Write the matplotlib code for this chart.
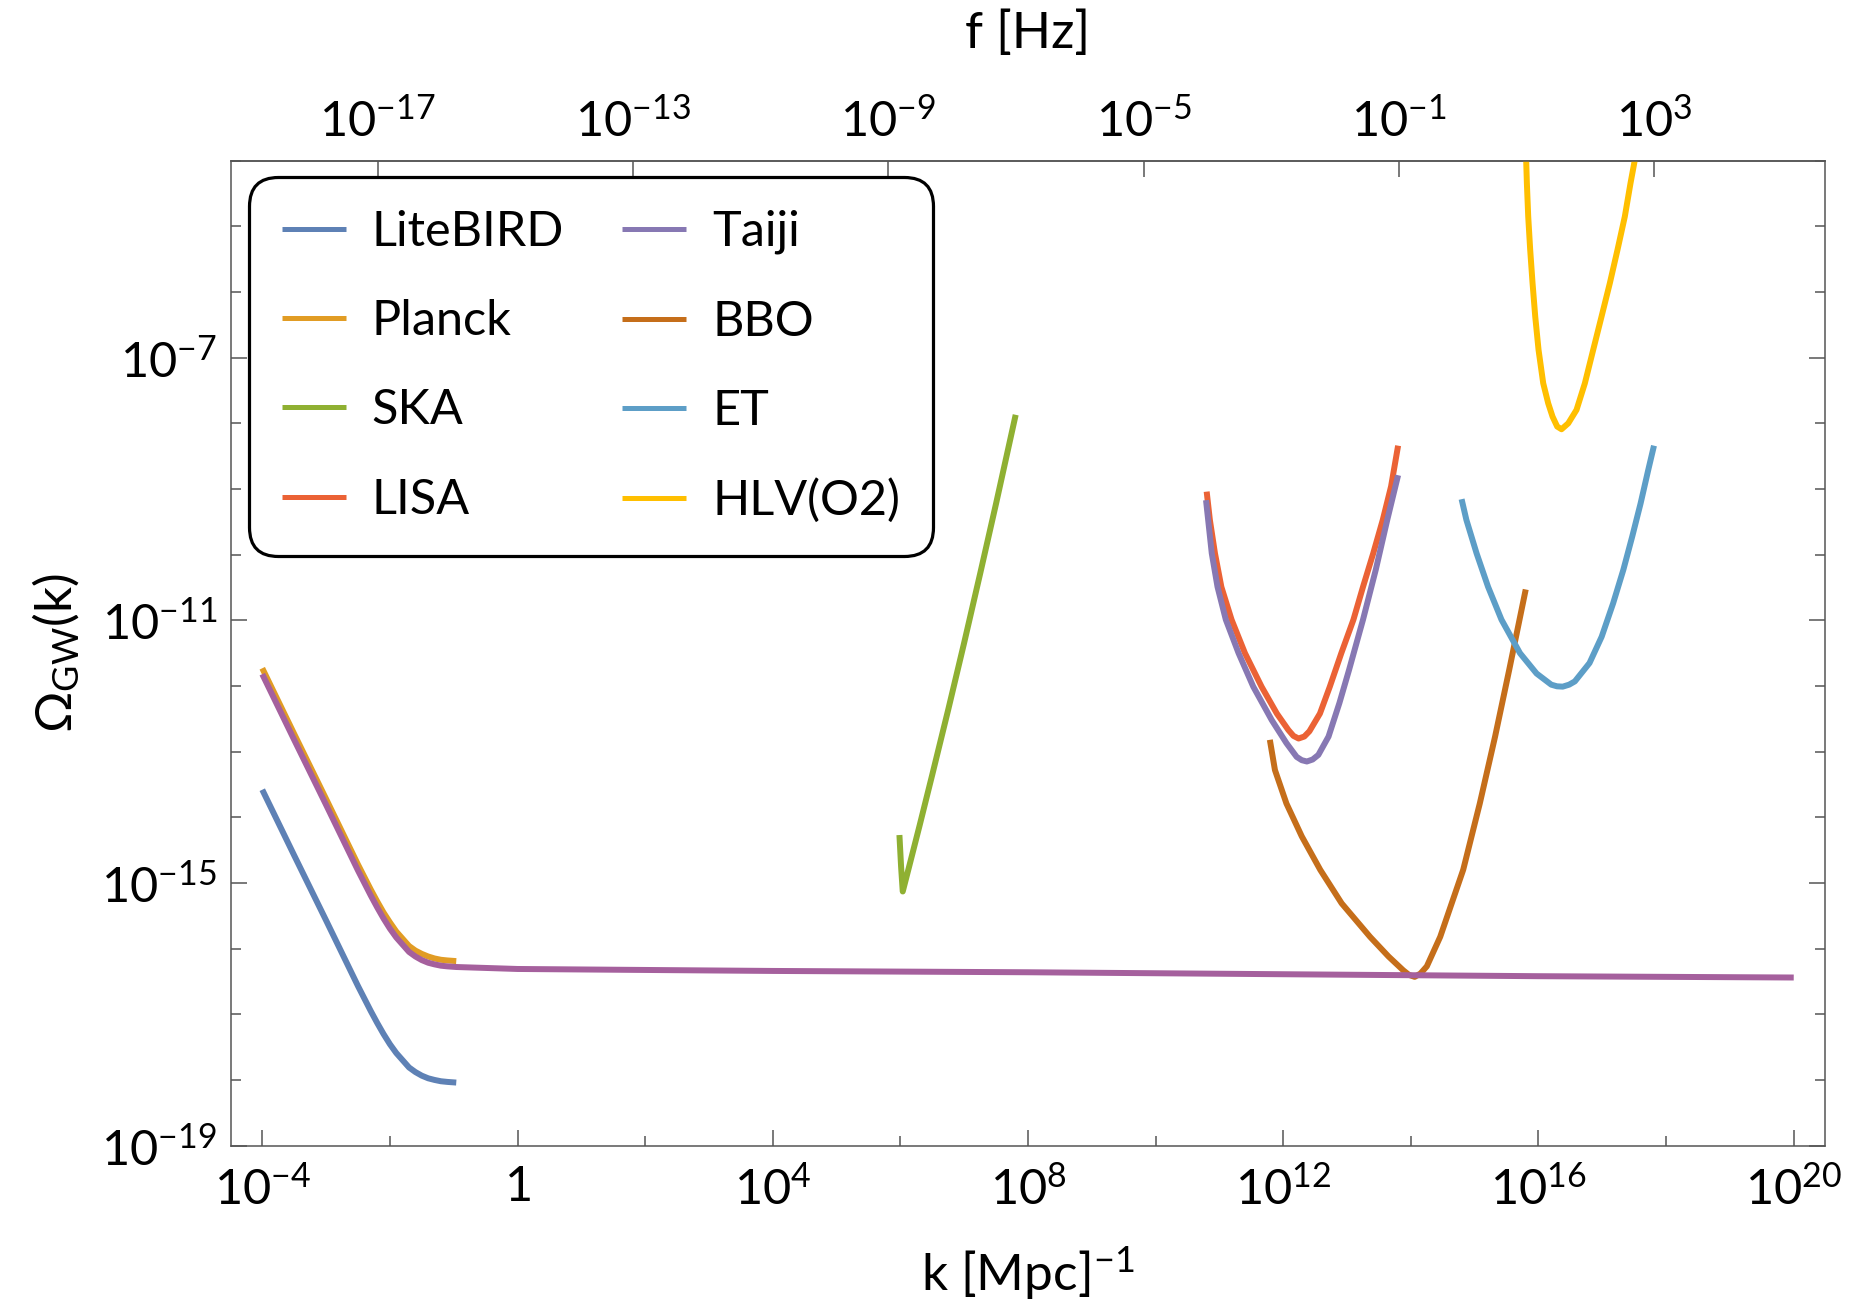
import numpy as np
import matplotlib
matplotlib.use('Agg')
import matplotlib.pyplot as plt
from matplotlib.ticker import FixedLocator, FixedFormatter, NullLocator, NullFormatter

plt.rcParams['font.family'] = ['Lato', 'DejaVu Sans']
plt.rcParams['mathtext.fontset'] = 'custom'
plt.rcParams['mathtext.rm'] = 'Lato'
plt.rcParams['mathtext.it'] = 'Lato:italic'
plt.rcParams['mathtext.bf'] = 'Lato:bold'
plt.rcParams['mathtext.sf'] = 'Lato'
plt.rcParams['mathtext.default'] = 'regular'

# ---------------- data (log10 k [Mpc^-1], log10 Omega_GW) ----------------
litebird_logk = [-4.0, -3.5, -3.0, -2.7, -2.5, -2.3, -2.2, -2.1, -2.0, -1.9, -1.8, -1.7, -1.6, -1.5, -1.4, -1.3, -1.2, -1.1, -0.96]
litebird_logO = [-13.58, -14.58, -15.57, -16.17, -16.57, -16.95, -17.13, -17.30, -17.455, -17.59, -17.70, -17.81, -17.88,
                 -17.935, -17.975, -18.00, -18.02, -18.03, -18.04]

planck_logk = [-4.0, -3.5, -3.0, -2.7, -2.5, -2.3, -2.2, -2.1, -2.0, -1.9, -1.8, -1.7, -1.6, -1.5, -1.4, -1.3, -1.2, -1.1, -0.96]
planck_logO = [-11.73, -12.73, -13.72, -14.32, -14.72, -15.10, -15.28, -15.45, -15.60, -15.74, -15.85, -15.96, -16.03,
               -16.08, -16.12, -16.15, -16.17, -16.18, -16.19]

ska_logk = [5.985, 6.011, 6.037, 6.14, 6.3, 6.5, 6.75, 7.0, 7.25, 7.5, 7.807]
ska_logO = [-14.27, -14.75, -15.13, -14.74, -14.13, -13.35, -12.36, -11.34, -10.29, -9.22, -7.87]

lisa_logk = [10.80, 10.85, 10.93, 11.03, 11.19, 11.40, 11.66, 11.90, 12.08, 12.16, 12.24, 12.33, 12.41, 12.575, 12.73,
             12.91, 13.10, 13.25, 13.41, 13.56, 13.69, 13.80]
lisa_logO = [-9.04, -9.47, -9.98, -10.49, -10.99, -11.50, -12.01, -12.42, -12.67, -12.76, -12.80, -12.77, -12.69, -12.42,
             -12.01, -11.50, -10.99, -10.49, -9.98, -9.47, -8.96, -8.34]

taiji_logk = [10.79, 10.88, 10.97, 11.10, 11.30, 11.53, 11.82, 12.05, 12.21, 12.29, 12.37, 12.46, 12.55, 12.71, 12.88,
              13.03, 13.25, 13.45, 13.63, 13.80]
taiji_logO = [-9.17, -9.98, -10.49, -10.99, -11.50, -12.01, -12.52, -12.87, -13.08, -13.13, -13.15, -13.12, -13.05,
              -12.77, -12.26, -11.76, -10.99, -10.23, -9.47, -8.79]

bbo_logk = [11.79, 11.87, 12.05, 12.29, 12.58, 12.915, 13.36, 13.65, 13.88, 13.97, 14.06, 14.15, 14.25, 14.46, 14.64,
            14.82, 15.08, 15.32, 15.54, 15.80]
bbo_logO = [-12.82, -13.28, -13.79, -14.29, -14.80, -15.31, -15.82, -16.12, -16.33, -16.40, -16.43, -16.38, -16.27,
            -15.82, -15.31, -14.80, -13.79, -12.77, -11.76, -10.53]

et_logk = [14.795, 14.87, 15.03, 15.21, 15.42, 15.71, 15.97, 16.20, 16.29, 16.38, 16.48, 16.57, 16.80, 16.99, 17.17,
           17.33, 17.47, 17.60, 17.72, 17.81]
et_logO = [-9.155, -9.47, -9.98, -10.49, -10.99, -11.50, -11.81, -11.98, -12.005, -12.01, -11.98, -11.93, -11.65,
           -11.25, -10.74, -10.23, -9.72, -9.22, -8.71, -8.34]

hlv_logk = [15.802, 15.818, 15.839, 15.870, 15.907, 15.949, 16.001, 16.074, 16.152, 16.220, 16.293, 16.361,
            16.466, 16.596, 16.727, 16.857, 16.988, 17.118, 17.238, 17.353, 17.442, 17.51, 17.536]
hlv_logO = [-3.835, -4.343, -4.85, -5.358, -5.866, -6.374, -6.882, -7.389, -7.694, -7.897, -8.049, -8.09,
            -8.0, -7.795, -7.389, -6.882, -6.374, -5.866, -5.358, -4.85, -4.343, -3.987, -3.835]

model_logk = [-4.0, -3.5, -3.0, -2.7, -2.5, -2.3, -2.2, -2.1, -2.0, -1.9, -1.8, -1.7, -1.6, -1.5, -1.4, -1.3, -1.2,
              -1.1, -0.96, 0, 4, 8, 12, 16, 20]
model_logO = [-11.82, -12.82, -13.81, -14.41, -14.81, -15.19, -15.37, -15.54, -15.695, -15.83, -15.94, -16.05, -16.12,
              -16.175, -16.215, -16.24, -16.26, -16.27, -16.28, -16.31, -16.34, -16.36, -16.39, -16.42, -16.44]

series_names = ['LiteBIRD', 'Planck', 'SKA', 'LISA', 'Taiji', 'BBO', 'ET', 'HLV(O2)']
series_k = [litebird_logk, planck_logk, ska_logk, lisa_logk, taiji_logk, bbo_logk, et_logk, hlv_logk]
series_O = [litebird_logO, planck_logO, ska_logO, lisa_logO, taiji_logO, bbo_logO, et_logO, hlv_logO]
series_colors = ['#5E81B5', '#E19C24', '#8FB032', '#EB6235', '#8778B3', '#C56E1A', '#5D9EC7', '#FFBF00']
model_color = '#A5609D'

x_major_exp = [-4, 0, 4, 8, 12, 16, 20]
x_major_labels = ['$10^{-4}$', '$1$', '$10^{4}$', '$10^{8}$', '$10^{12}$', '$10^{16}$', '$10^{20}$']
x_minor_exp = [-2, 2, 6, 10, 14, 18]
y_major_exp = [-19, -15, -11, -7]
y_major_labels = ['$10^{-19}$', '$10^{-15}$', '$10^{-11}$', '$10^{-7}$']
f_major_exp = [-17, -13, -9, -5, -1, 3]
f_major_labels = ['$10^{-17}$', '$10^{-13}$', '$10^{-9}$', '$10^{-5}$', '$10^{-1}$', '$10^{3}$']
f_per_k = 1.546e-15  # Hz per Mpc^-1

# ---------------- figure ----------------
W, H = 1855, 1307
fig = plt.figure(figsize=(W / 100, H / 100), dpi=100)
L, R, B, T = 231, 1825, 1145.6, 160.7
ax = fig.add_axes([L / W, 1 - B / H, (R - L) / W, (B - T) / H])
ax.set_xscale('log')
ax.set_yscale('log')

lw = 4.3
for name, lk, lo, c in zip(series_names, series_k, series_O, series_colors):
    ax.plot(10.0 ** np.array(lk), 10.0 ** np.array(lo), color=c, lw=lw, label=name,
            solid_capstyle='butt', solid_joinstyle='round')
ax.plot(10.0 ** np.array(model_logk), 10.0 ** np.array(model_logO), color=model_color, lw=lw,
        solid_capstyle='butt', solid_joinstyle='round')

ax.set_xlim(10 ** -4.49, 10 ** 20.49)
ax.set_ylim(1e-19, 1e-4)

spine_col = '#555555'
for s in ax.spines.values():
    s.set_color(spine_col)
    s.set_linewidth(1.1)

ax.xaxis.set_major_locator(FixedLocator([10.0 ** e for e in x_major_exp]))
ax.xaxis.set_major_formatter(FixedFormatter(x_major_labels))
ax.xaxis.set_minor_locator(FixedLocator([10.0 ** e for e in x_minor_exp]))
ax.xaxis.set_minor_formatter(NullFormatter())
ax.yaxis.set_major_locator(FixedLocator([10.0 ** e for e in y_major_exp]))
ax.yaxis.set_major_formatter(FixedFormatter(y_major_labels))
y_minor = [10.0 ** e for e in range(-19, -3) if e not in y_major_exp]
ax.yaxis.set_minor_locator(FixedLocator(y_minor))
ax.yaxis.set_minor_formatter(NullFormatter())

ax.tick_params(which='both', direction='in', top=False, right=True, color=spine_col, width=1.1)
ax.tick_params(which='major', length=11.5, labelsize=35, pad=14)
ax.tick_params(which='minor', length=7)
ax.tick_params(axis='y', which='major', pad=10)

secax = ax.secondary_xaxis('top', functions=(lambda k: k * f_per_k, lambda f: f / f_per_k))
secax.xaxis.set_major_locator(FixedLocator([10.0 ** e for e in f_major_exp]))
secax.xaxis.set_major_formatter(FixedFormatter(f_major_labels))
secax.xaxis.set_minor_locator(NullLocator())
secax.tick_params(which='major', direction='in', length=11.5, color=spine_col, width=1.1,
                  labelsize=35, pad=12)
secax.spines['top'].set_color(spine_col)
secax.spines['top'].set_linewidth(1.1)
secax.set_xlabel('f [Hz]', fontsize=37, labelpad=35)

ax.set_xlabel('k [Mpc]$^{-1}$', fontsize=37, labelpad=24)
ax.set_ylabel('$\\Omega_{GW}$(k)', fontsize=37, labelpad=14)

leg = ax.legend(ncol=2, loc='upper left', bbox_to_anchor=(0.011, 0.9836), borderaxespad=0,
                fontsize=35, handlelength=1.32, handletextpad=0.53, columnspacing=1.2,
                labelspacing=0.93, borderpad=0.68, frameon=True, fancybox=True,
                edgecolor='black', framealpha=1)
frame = leg.get_frame()
frame.set_linewidth(2.3)
frame.set_boxstyle('round', pad=0, rounding_size=0.6)
for line in leg.get_lines():
    line.set_linewidth(3.6)

fig.savefig('out.png', dpi=100, facecolor='white')
